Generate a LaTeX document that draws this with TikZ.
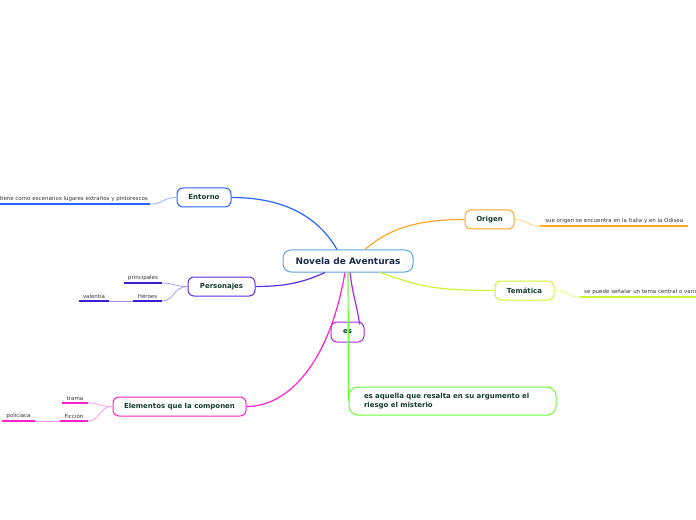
\documentclass[tikz,border=0pt]{standalone}
\usepackage{fontspec}
\setmainfont{DejaVu Sans}
\definecolor{lbl}{HTML}{143D2C}
\definecolor{ctxt}{HTML}{1A2B4C}
\definecolor{leaftxt}{HTML}{333333}
\definecolor{cnov}{HTML}{5DA4DC}
\definecolor{cent}{HTML}{2962FF}
\definecolor{cper}{HTML}{5B2EE8}
\definecolor{cperl}{HTML}{3A1FD6}
\definecolor{cele}{HTML}{FF22CC}
\definecolor{cori}{HTML}{FFA726}
\definecolor{ctem}{HTML}{CCF533}
\definecolor{ces}{HTML}{A828EE}
\definecolor{cgre}{HTML}{66FF33}
\begin{document}
\begin{tikzpicture}[x=1bp,y=-1bp,
  box/.style={draw, rounded corners=6bp, fill=white, line width=1bp,
    font=\bfseries\fontsize{7}{8}\selectfont, text=lbl, inner sep=0pt,
    minimum height=19bp},
  leafnode/.style={font=\fontsize{5.5}{6.5}\selectfont, text=leaftxt,
    inner xsep=0pt, inner ysep=1.8bp},
  ul/.style={line width=1.5bp},
  conn/.style={line width=1.2bp},
  sub/.style={line width=0.8bp}]
\useasboundingbox (0,0) rectangle (696,520);
\clip (0,0) rectangle (696,520);

% central
\node[box, draw=cnov, text=ctxt, font=\bfseries\fontsize{9}{10}\selectfont,
  minimum width=130bp, minimum height=22bp, rounded corners=8bp] (nov) at (348,261) {Novela de Aventuras};

% main boxes
\node[box, draw=cent, minimum width=54bp] (ent) at (204,197.5) {Entorno};
\node[box, draw=cper, minimum width=67bp] (per) at (221.5,286.5) {Personajes};
\node[box, draw=cele, minimum width=133bp] (ele) at (179.5,406.5) {Elementos que la componen};
\node[box, draw=cori, minimum width=49bp] (ori) at (489.5,219.5) {Origen};
\node[box, draw=ctem, minimum width=59bp] (tem) at (524.5,290.5) {Temática};
\node[box, draw=ces, minimum width=33bp, minimum height=20bp] (es) at (347.5,332) {es};
\node[box, draw=cgre, minimum width=207bp, minimum height=28bp, rounded corners=9bp,
  text width=177bp, align=left, inner xsep=15bp, font=\bfseries\fontsize{7}{9.5}\selectfont] (gre) at (452.5,401)
  {es aquella que resalta en su argumento el\\riesgo el misterio};

% main connectors
\draw[conn, cent] ([xshift=-11bp]nov.north) .. controls +(-22,-38) and +(45,0) .. (ent.east);
\draw[conn, cper] ([xshift=-23bp]nov.south) .. controls +(-22,10) and +(30,0) .. (per.east);
\draw[conn, cele] ([xshift=-3bp]nov.south) .. controls (330,360) and (290,406.5) .. (ele.east);
\draw[conn, cori] ([xshift=17bp]nov.north) .. controls +(25,-22) and +(-45,0) .. (ori.west);
\draw[conn, ctem] ([xshift=32bp]nov.south) .. controls +(40,14) and +(-60,0) .. (tem.west);
\draw[conn, ces] ([xshift=2bp]nov.south) .. controls +(3,25) and +(-2,-18) .. ([xshift=-5bp,yshift=-3bp]es.north east);
\draw[conn, cgre] (nov.south) -- (gre.west);

% leaves
\coordinate (eL) at (0,204);
\node[leafnode, anchor=south east, inner xsep=2bp] (eleaf) at (150,204)
  {tiene como excenarios lugares extraños y pintorescos};
\node[leafnode, anchor=south, minimum width=38bp] (prin) at (143,283) {principales};
\node[leafnode, anchor=south, minimum width=29bp] (her) at (147.5,301) {Héroes};
\node[leafnode, anchor=south, minimum width=30bp] (val) at (94,301) {valentía};
\node[leafnode, anchor=south, minimum width=26bp] (tra) at (75,403) {trama};
\node[leafnode, anchor=south, minimum width=28bp] (fic) at (74,421) {Ficción};
\node[leafnode, anchor=south, minimum width=33bp] (pol) at (18.5,421) {policiaca};
\node[leafnode, anchor=south west, minimum width=148bp] (oleaf) at (540,226)
  {sue origen se encuentra en la Italia y en la Odisea};
\node[leafnode, anchor=south west, text width=150bp, align=left, inner xsep=4bp] (tleaf) at (580,297)
  {se puede señalar un tema central o varios};

% underlines
\draw[ul, cent] (eL) -- (eleaf.south east);
\draw[ul, cperl] (prin.south west) -- (prin.south east);
\draw[ul, cperl] (her.south west) -- (her.south east);
\draw[ul, cperl] (val.south west) -- (val.south east);
\draw[ul, cele] (tra.south west) -- (tra.south east);
\draw[ul, cele] (fic.south west) -- (fic.south east);
\draw[ul, cele] (pol.south west) -- (pol.south east);
\draw[ul, cori] (oleaf.south west) -- (oleaf.south east);
\draw[ul, ctem] (tleaf.south west) -- (tleaf.south east);

% sub connectors
\draw[sub, cent!50] (ent.west) .. controls +(-14,0) and +(14,0) .. (eleaf.south east);
\draw[sub, cperl!45] (per.west) .. controls +(-14,0) and +(12,0) .. (prin.south east);
\draw[sub, cperl!45] (per.west) .. controls +(-14,0) and +(12,0) .. (her.south east);
\draw[sub, cperl!45] (her.south west) -- (val.south east);
\draw[sub, cele!45] (ele.west) .. controls +(-14,0) and +(12,0) .. (tra.south east);
\draw[sub, cele!45] (ele.west) .. controls +(-14,0) and +(12,0) .. (fic.south east);
\draw[sub, cele!45] (fic.south west) -- (pol.south east);
\draw[sub, cori!50] (ori.east) .. controls +(14,0) and +(-14,0) .. (oleaf.south west);
\draw[sub, ctem!60] (tem.east) .. controls +(14,0) and +(-14,0) .. (tleaf.south west);
\end{tikzpicture}
\end{document}
